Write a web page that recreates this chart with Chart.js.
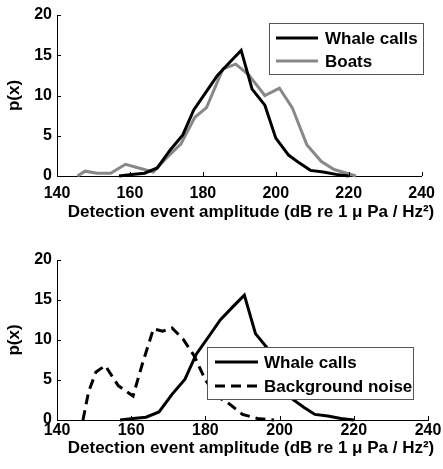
<!DOCTYPE html>
<html>
<head>
<meta charset="utf-8">
<script src="https://cdn.jsdelivr.net/npm/chart.js@4.4.1/dist/chart.umd.min.js"></script>
<style>
  body { margin: 0; background: #fff; }
  canvas { display: block; }
</style>
</head>
<body>
<canvas id="topChart" width="443" height="235"></canvas>
<canvas id="bottomChart" width="443" height="234"></canvas>
<script>
// values
const xTicks = [140, 160, 180, 200, 220, 240];
const yTicks = [0, 5, 10, 15, 20];

const whaleAmp = [157, 160.5, 164, 167.5, 171, 174.5, 177.5, 181, 184, 187.5, 190.5, 193.5, 197, 200, 203.5, 206.5, 209.5, 213, 216.5, 220];
const whaleP   = [0, 0.2, 0.35, 1.0, 3.2, 5.1, 8.2, 10.5, 12.5, 14.2, 15.6, 10.8, 8.8, 4.7, 2.6, 1.6, 0.7, 0.5, 0.2, 0];

const boatAmp = [145.6, 147.7, 151, 154.7, 158.8, 162.4, 166.4, 169.5, 174, 175.5, 177.8, 181, 185.5, 189, 192.5, 197, 201, 204.5, 208.5, 212.5, 216, 222];
const boatP   = [0, 0.6, 0.33, 0.33, 1.45, 1.0, 0.5, 2.0, 4.0, 5.3, 7.3, 8.5, 13.3, 13.9, 12.6, 10.0, 10.9, 8.5, 3.9, 1.8, 0.8, 0];

const noiseAmp = [147, 148.5, 150.5, 153, 156.5, 160.5, 163, 166, 168.5, 171, 174, 177, 180, 183, 186.5, 190, 194, 198.5];
const noiseP   = [0, 3.5, 6.0, 6.8, 4.3, 3.0, 7.0, 11.4, 11.1, 11.5, 10.1, 8.0, 5.0, 3.0, 2.0, 0.7, 0.2, 0];

const xTitle = 'Detection event amplitude (dB re 1 \u03bc Pa / Hz\u00b2)';

Chart.defaults.font.family = '"Liberation Sans", Arial, sans-serif';
Chart.defaults.font.weight = 'bold';
Chart.defaults.color = '#000';

const toPoints = (xs, ys) => xs.map((x, i) => ({ x: x, y: ys[i] }));

// inward MATLAB style tick marks + x axis label
const tickMarks = {
    id: 'tickMarks',
    afterDraw(chart, args, opts) {
        const { ctx, chartArea, scales } = chart;
        ctx.save();
        ctx.strokeStyle = '#000';
        ctx.lineWidth = 1;
        ctx.beginPath();
        xTicks.forEach(v => {
            const px = Math.round(scales.x.getPixelForValue(v)) + 0.5;
            ctx.moveTo(px, chartArea.bottom);
            ctx.lineTo(px, chartArea.bottom - 4);
        });
        yTicks.forEach(v => {
            const py = Math.round(scales.y.getPixelForValue(v)) + 0.5;
            ctx.moveTo(chartArea.left, py);
            ctx.lineTo(chartArea.left + 4, py);
        });
        ctx.stroke();

        ctx.fillStyle = '#000';
        ctx.font = 'bold 17px "Liberation Sans", Arial, sans-serif';
        ctx.textAlign = 'center';
        ctx.textBaseline = 'middle';
        ctx.fillText(xTitle, opts.titleX, opts.titleY);
        ctx.restore();
    }
};

// boxed legend inside the axes
const boxLegend = {
    id: 'boxLegend',
    afterDraw(chart, args, opts) {
        const ctx = chart.ctx;
        ctx.save();
        ctx.fillStyle = '#fff';
        ctx.fillRect(opts.left, opts.top, opts.width, opts.height);
        ctx.strokeStyle = '#555';
        ctx.lineWidth = 1;
        ctx.strokeRect(opts.left + 0.5, opts.top + 0.5, opts.width, opts.height);
        chart.data.datasets.forEach((ds, i) => {
            const y = opts.rows[i];
            ctx.strokeStyle = ds.borderColor;
            ctx.lineWidth = ds.borderWidth;
            ctx.setLineDash(ds.borderDash || []);
            ctx.beginPath();
            ctx.moveTo(opts.lineFrom, y);
            ctx.lineTo(opts.lineTo, y);
            ctx.stroke();
            ctx.setLineDash([]);
            ctx.fillStyle = '#000';
            ctx.font = 'bold 17px "Liberation Sans", Arial, sans-serif';
            ctx.textBaseline = 'middle';
            ctx.fillText(ds.label, opts.textX, y + 1);
        });
        ctx.restore();
    }
};

function makeOptions(pad, xHeight, tickPad, titleY, legend) {
    return {
        responsive: false,
        animation: false,
        layout: { padding: pad },
        plugins: {
            legend: { display: false },
            tooltip: { enabled: false },
            tickMarks: { titleX: 251, titleY: titleY },
            boxLegend: legend
        },
        scales: {
            x: {
                type: 'linear',
                min: 140,
                max: 240,
                afterFit: s => { s.height = xHeight; },
                afterBuildTicks: s => { s.ticks = xTicks.map(v => ({ value: v })); },
                grid: { display: false, drawTicks: false },
                border: { display: true, color: '#000', width: 1 },
                ticks: { padding: tickPad, font: { size: 16, weight: 'bold' } }
            },
            y: {
                min: 0,
                max: 20,
                afterFit: s => { s.width = 57; },
                afterBuildTicks: s => { s.ticks = yTicks.map(v => ({ value: v })); },
                grid: { display: false, drawTicks: false },
                border: { display: true, color: '#000', width: 1 },
                ticks: { padding: 5, font: { size: 16, weight: 'bold' } },
                title: { display: true, text: 'p(x)', padding: 4, font: { size: 17, weight: 'bold' } }
            }
        }
    };
}

const lineStyle = { showLine: true, pointRadius: 0, fill: false, tension: 0, clip: 6 };

new Chart(document.getElementById('topChart'), {
    type: 'scatter',
    data: {
        datasets: [
            { label: 'Whale calls', data: toPoints(whaleAmp, whaleP), borderColor: '#000', borderWidth: 3, ...lineStyle },
            { label: 'Boats', data: toPoints(boatAmp, boatP), borderColor: '#888', borderWidth: 3, ...lineStyle }
        ]
    },
    options: makeOptions({ top: 15, right: 15, left: 0, bottom: 0 }, 59, 8, 212,
        { left: 269, top: 23, width: 154, height: 51, rows: [38, 61], lineFrom: 276, lineTo: 318, textX: 325 }),
    plugins: [tickMarks, boxLegend]
});

new Chart(document.getElementById('bottomChart'), {
    type: 'scatter',
    data: {
        datasets: [
            { label: 'Whale calls', data: toPoints(whaleAmp, whaleP), borderColor: '#000', borderWidth: 3, ...lineStyle },
            { label: 'Background noise', data: toPoints(noiseAmp, noiseP), borderColor: '#000', borderWidth: 3, borderDash: [10, 6], ...lineStyle }
        ]
    },
    options: makeOptions({ top: 25, right: 15, left: 0, bottom: 0 }, 49, 1, 213,
        { left: 207, top: 112, width: 206, height: 52, rows: [127, 151], lineFrom: 215, lineTo: 258, textX: 264 }),
    plugins: [tickMarks, boxLegend]
});
</script>
</body>
</html>
